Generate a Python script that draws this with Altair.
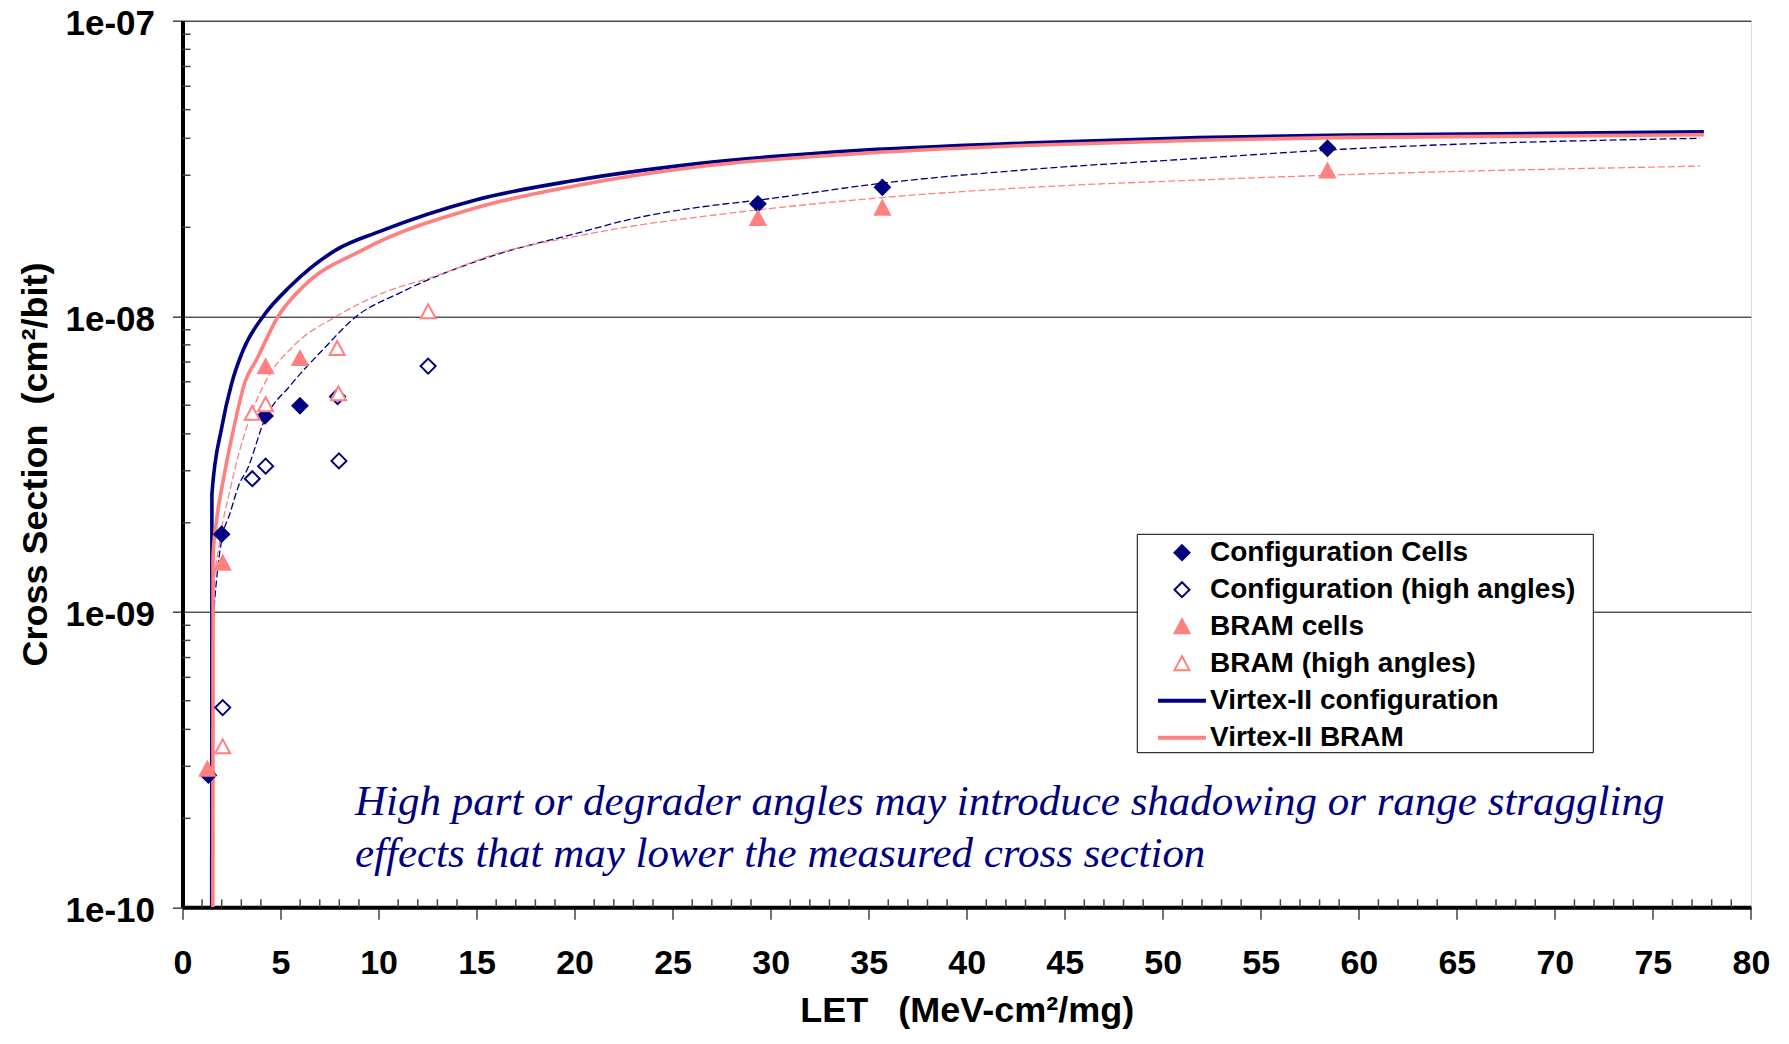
import altair as alt
import pandas as pd

# ---------------- data ----------------
series_names = ["Configuration Cells", "Configuration (high angles)", "BRAM cells",
                "BRAM (high angles)", "Virtex-II configuration", "Virtex-II BRAM"]

cfg_x = [1.32, 2.0, 4.21, 5.99, 29.35, 35.7, 58.4]
cfg_y = [2.80e-10, 1.83e-9, 4.60e-9, 4.98e-9, 2.40e-8, 2.73e-8, 3.70e-8]

cfgh_x = [2.05, 3.56, 4.24, 7.91, 7.98, 12.53]
cfgh_y = [4.74e-10, 2.82e-9, 3.11e-9, 5.35e-9, 3.24e-9, 6.78e-9]

bram_x = [1.27, 2.05, 4.24, 5.99, 29.35, 35.7, 58.4]
bram_y = [2.93e-10, 1.46e-9, 6.74e-9, 7.19e-9, 2.14e-8, 2.32e-8, 3.10e-8]

bramh_x = [2.05, 3.56, 4.24, 7.89, 7.96, 12.53]
bramh_y = [3.49e-10, 4.69e-9, 5.02e-9, 7.78e-9, 5.46e-9, 1.035e-8]

# Virtex-II configuration (solid navy)
v2c_x = [1.49, 1.50, 2.0, 2.5, 3.1, 4.12, 5.48, 7.86, 10, 15, 20, 26.4, 34.8, 43.3, 51.8, 59.5, 77.6]
v2c_y = [1e-10, 2.5e-9, 4.2e-9, 5.9e-9, 7.7e-9, 1.0e-8, 1.26e-8, 1.68e-8, 1.93e-8, 2.48e-8,
         2.88e-8, 3.29e-8, 3.65e-8, 3.86e-8, 4.02e-8, 4.10e-8, 4.21e-8]

# Virtex-II BRAM (solid salmon)
v2b_x = [1.55, 1.56, 1.74, 2.08, 2.59, 3.19, 3.78, 4.88, 6.16, 9.22, 15, 20, 26.4, 34.8, 43.3, 51.8, 59.5, 77.6]
v2b_y = [1e-10, 1.55e-9, 2.04e-9, 2.79e-9, 4.11e-9, 6.0e-9, 7.14e-9, 1.0e-8, 1.26e-8, 1.68e-8,
         2.33e-8, 2.76e-8, 3.21e-8, 3.56e-8, 3.79e-8, 3.94e-8, 4.03e-8, 4.11e-8]

# fit to configuration data (dashed navy)
fitc_x = [1.48, 1.49, 1.57, 1.74, 2.0, 2.42, 2.93, 3.27, 4.2, 5.48, 7.18, 8.88, 11.09, 16.19, 20, 23,
          26.4, 29.35, 35.7, 43.3, 51.8, 58.4, 77.4]
fitc_y = [1e-10, 7.2e-10, 9.3e-10, 1.29e-9, 1.75e-9, 2.15e-9, 2.74e-9, 3.0e-9, 4.48e-9, 5.81e-9,
          7.73e-9, 1.0e-8, 1.2e-8, 1.63e-8, 1.9e-8, 2.14e-8, 2.34e-8, 2.47e-8, 2.82e-8, 3.14e-8,
          3.42e-8, 3.65e-8, 4.0e-8]

# fit to BRAM data (dashed salmon)
fitb_x = [1.50, 1.51, 1.57, 1.91, 2.42, 3.3, 4.25, 5.65, 7.86, 10.24, 12.79, 16.19, 20, 23, 26.4,
          29.35, 35.7, 43.3, 51.8, 58.4, 77.4]
fitb_y = [1e-10, 8.0e-10, 1.12e-9, 1.75e-9, 2.58e-9, 4.27e-9, 6.03e-9, 7.92e-9, 1.0e-8, 1.2e-8,
          1.36e-8, 1.64e-8, 1.86e-8, 2.02e-8, 2.17e-8, 2.29e-8, 2.52e-8, 2.73e-8, 2.89e-8, 3.0e-8, 3.22e-8]

x_major = list(range(0, 81, 5))
x_minor = [v for v in range(1, 80) if v % 5 != 0]
y_major = [1e-10, 1e-9, 1e-8, 1e-7]
y_minor = [m * d for d in (1e-10, 1e-9, 1e-8) for m in range(2, 10)]

note_lines = ["High part or degrader angles may introduce shadowing or range straggling",
              "effects that may lower the measured cross section"]

NB = "\u00a0"
x_title = "LET" + NB * 3 + "(MeV-cm²/mg)"
y_title = "Cross Section" + NB * 2 + "(cm²/bit)"

# ---------------- styling ----------------
NAVY = "#000080"
SALMON = "#FF8080"
W = 1568.4
H = 886.6
SANS = "Liberation Sans"

x_scale = alt.Scale(domain=[0, 80], nice=False, zero=False)
y_scale = alt.Scale(type="log", domain=[1e-10, 1e-7], nice=False)

x_axis = alt.Axis(values=x_major, title=x_title, grid=False, tickSize=12, tickColor="#444444",
                  tickWidth=1.5, domainColor="black", domainWidth=4, labelFont=SANS,
                  labelFontSize=34, labelFontWeight="bold", labelColor="black", labelPadding=27,
                  labelFlush=False, labelOverlap=False, titleFont=SANS, titleFontSize=36,
                  titleFontWeight="bold", titleColor="black", titlePadding=13)
y_axis = alt.Axis(values=y_major, title=y_title, grid=True, gridColor="black", gridWidth=1,
                  tickSize=10, tickColor="#444444", tickWidth=1.5, domainColor="black", domainWidth=4,
                  labelFont=SANS, labelFontSize=35, labelFontWeight="bold", labelColor="black",
                  labelPadding=18, labelOverlap=False, labelOffset=3,
                  labelExpr="datum.value < 5e-10 ? '1e-10' : replace(format(datum.value, '.0e'), 'e-', 'e-0')",
                  titleFont=SANS, titleFontSize=36, titleFontWeight="bold", titleColor="black",
                  titlePadding=10)

X = lambda f: alt.X(f, type="quantitative", scale=x_scale, axis=x_axis)
Y = lambda f: alt.Y(f, type="quantitative", scale=y_scale, axis=y_axis)

# ---------------- tables ----------------
pts = pd.concat([
    pd.DataFrame({"x": cfg_x, "y": cfg_y, "series": series_names[0]}),
    pd.DataFrame({"x": cfgh_x, "y": cfgh_y, "series": series_names[1]}),
    pd.DataFrame({"x": bram_x, "y": bram_y, "series": series_names[2]}),
    pd.DataFrame({"x": bramh_x, "y": bramh_y, "series": series_names[3]}),
], ignore_index=True)

DIAMOND = "M0,-0.5L0.5,0L0,0.5L-0.5,0Z"
TRIANGLE = "M0,-0.5L0.5,0.43L-0.5,0.43Z"
LINESYM = "M-1.53,-0.07H1.53V0.07H-1.53Z"

legend = alt.Legend(title=None, orient="none", legendX=983.5, legendY=516.0, symbolSize=900,
                    symbolStrokeWidth=2, labelFont=SANS, labelFontSize=28, labelFontWeight="bold",
                    labelColor="black", labelOffset=12, rowPadding=7.0, padding=0, labelLimit=0,
                    symbolOpacity=1)

color_scale = alt.Scale(domain=series_names, range=[NAVY, NAVY, SALMON, SALMON, NAVY, SALMON])
fill_scale = alt.Scale(domain=series_names, range=[NAVY, "white", SALMON, "white", NAVY, SALMON])
shape_scale = alt.Scale(domain=series_names, range=[DIAMOND, DIAMOND, TRIANGLE, TRIANGLE, LINESYM, LINESYM])

points = alt.Chart(pts).mark_point(filled=False, size=900, strokeWidth=2, opacity=1).encode(
    x=X("x"), y=Y("y"),
    color=alt.Color("series:N", scale=color_scale, legend=legend, sort=series_names),
    fill=alt.Fill("series:N", scale=fill_scale, legend=legend, sort=series_names),
    shape=alt.Shape("series:N", scale=shape_scale, legend=legend, sort=series_names),
)


def curve(xs, ys, color, width, dash=None):
    df = pd.DataFrame({"x": xs, "y": ys})
    kw = dict(color=color, strokeWidth=width, clip=True, interpolate="monotone")
    if dash:
        kw["strokeDash"] = dash
    return alt.Chart(df).mark_line(**kw).encode(x=X("x"), y=Y("y"), order="x:Q")


fit_c = curve(fitc_x, fitc_y, NAVY, 1.3, [7, 3])
fit_b = curve(fitb_x, fitb_y, SALMON, 1.3, [7, 3])
sol_c = curve(v2c_x, v2c_y, NAVY, 3.6)
sol_b = curve(v2b_x, v2b_y, SALMON, 3.6)

xminor = alt.Chart(pd.DataFrame({"x": x_minor})).mark_rule(color="#444444", strokeWidth=1.5).encode(
    x=X("x"), y=alt.value(H), y2=alt.value(H - 8))
yminor = alt.Chart(pd.DataFrame({"y": y_minor})).mark_rule(color="#444444", strokeWidth=1.5).encode(
    y=Y("y"), x=alt.value(0), x2=alt.value(8))

legend_box = alt.Chart(pd.DataFrame({"k": [0]})).mark_rect(fill="white", stroke="black", strokeWidth=1).encode(
    x=alt.value(954.8), x2=alt.value(1410.8), y=alt.value(513.6), y2=alt.value(732.0))

note = alt.Chart(pd.DataFrame({"t": ["\n".join(note_lines)]})).mark_text(
    align="left", baseline="alphabetic", font="Liberation Serif", fontStyle="italic",
    fontSize=43, color=NAVY, lineBreak="\n", lineHeight=51.7).encode(
    text="t:N", x=alt.value(172.5), y=alt.value(794.3))

chart = alt.layer(
    xminor, yminor, fit_c, fit_b, sol_c, sol_b, points, legend_box, note
).properties(
    width=W, height=H,
    autosize=alt.AutoSizeParams(type="none"),
    padding={"left": 174.5, "top": 12.7, "right": 25, "bottom": 125},
).configure_view(
    stroke="black", strokeWidth=3
).configure(background="white")

chart.save("out.html", embed_options={"renderer": "svg", "actions": False})
